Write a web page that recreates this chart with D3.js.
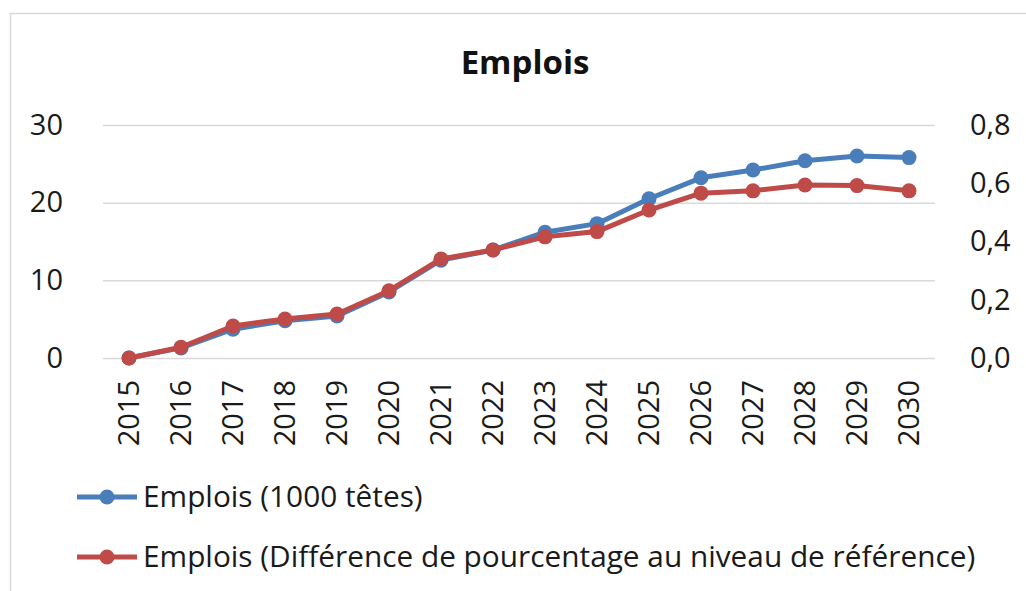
<!DOCTYPE html>
<html>
<head>
<meta charset="utf-8">
<script src="https://cdn.jsdelivr.net/npm/d3@7"></script>
<style>
  html, body { margin: 0; padding: 0; background: #fff; }
  svg { display: block; font-family: "Open Sans", "Noto Sans", sans-serif; }
</style>
</head>
<body>
<svg id="chart" width="1026" height="591"></svg>
<script>
// Années de la projection
const years = [2015, 2016, 2017, 2018, 2019, 2020, 2021, 2022, 2023, 2024, 2025, 2026, 2027, 2028, 2029, 2030];
// Emplois en milliers de têtes (axe de gauche)
const emploisTetes = [0, 1.3, 3.7, 4.8, 5.4, 8.5, 12.6, 13.9, 16.2, 17.3, 20.5, 23.2, 24.2, 25.4, 26.0, 25.8];
// Emplois, différence en % par rapport au niveau de référence (axe de droite)
const emploisPct = [0, 0.037, 0.11, 0.134, 0.151, 0.231, 0.34, 0.371, 0.416, 0.434, 0.508, 0.566, 0.574, 0.594, 0.592, 0.574];
// Graduations
const leftTicks = [0, 10, 20, 30];
const rightTicks = [0, 0.2, 0.4, 0.6, 0.8];
const seriesNames = ["Emplois (1000 têtes)", "Emplois (Différence de pourcentage au niveau de référence)"];
const titleText = "Emplois";

const colors = ["#4A7EBB", "#BE4B48"];

const svg = d3.select("#chart");
const plot = { left: 103, right: 935, top: 125, bottom: 358 };

const fr = d3.formatLocale({ decimal: ",", thousands: " ", grouping: [3], currency: ["", " €"] });
const fmtRight = fr.format(".1f");

// Cadre du graphique
svg.append("path")
  .attr("d", `M10.5,600 L10.5,13.5 L1030,13.5`)
  .attr("fill", "none")
  .attr("stroke", "#d9d9d9")
  .attr("stroke-width", 1.5);

const x = d3.scaleBand().domain(years).range([plot.left, plot.right]);
const yL = d3.scaleLinear().domain([0, 30]).range([plot.bottom, plot.top]);
const yR = d3.scaleLinear().domain([0, 0.8]).range([plot.bottom, plot.top]);

// Quadrillage horizontal
svg.append("g")
  .attr("transform", `translate(${plot.left},0)`)
  .call(d3.axisLeft(yL).tickValues(leftTicks).tickSize(-(plot.right - plot.left)).tickFormat(""))
  .call(g => g.select(".domain").remove())
  .call(g => g.selectAll("line").attr("stroke", "#d9d9d9").attr("stroke-width", 1.5));

// Axe de gauche
svg.append("g")
  .attr("transform", `translate(63,0)`)
  .call(d3.axisLeft(yL).tickValues(leftTicks).tickSize(0).tickPadding(0))
  .call(g => g.select(".domain").remove())
  .call(g => g.selectAll("text")
    .attr("font-family", "Open Sans").attr("font-size", 29).attr("fill", "#1a1a1a"));

// Axe de droite
svg.append("g")
  .attr("transform", `translate(970,0)`)
  .call(d3.axisRight(yR).tickValues(rightTicks).tickSize(0).tickPadding(0).tickFormat(fmtRight))
  .call(g => g.select(".domain").remove())
  .call(g => g.selectAll("text")
    .attr("font-family", "Open Sans").attr("font-size", 29).attr("fill", "#1a1a1a"));

// Axe des années (étiquettes verticales)
svg.append("g")
  .attr("transform", `translate(0,${plot.bottom})`)
  .call(d3.axisBottom(x).tickSize(0).tickPadding(0))
  .call(g => g.select(".domain").remove())
  .call(g => g.selectAll("text")
    .attr("font-family", "Open Sans").attr("font-size", 29).attr("fill", "#1a1a1a")
    .attr("text-anchor", "end")
    .attr("transform", "rotate(-90)")
    .attr("x", -22).attr("y", 0).attr("dy", "0.35em"));

// Séries
const cx = (d, i) => x(years[i]) + x.bandwidth() / 2;
const series = [
  { values: emploisTetes, y: yL, color: colors[0] },
  { values: emploisPct, y: yR, color: colors[1] }
];

series.forEach(s => {
  const line = d3.line().x(cx).y(d => s.y(d));
  svg.append("path")
    .datum(s.values)
    .attr("d", line)
    .attr("fill", "none")
    .attr("stroke", s.color)
    .attr("stroke-width", 5)
    .attr("stroke-linejoin", "round");
  svg.append("g").selectAll("circle")
    .data(s.values)
    .join("circle")
    .attr("cx", cx)
    .attr("cy", d => s.y(d))
    .attr("r", 7.5)
    .attr("fill", s.color);
});

// Titre
svg.append("text")
  .attr("x", 525).attr("y", 74)
  .attr("text-anchor", "middle")
  .attr("font-family", "Open Sans").attr("font-weight", "bold").attr("font-size", 33)
  .attr("fill", "#111")
  .text(titleText);

// Légende
const legendY = [497, 557];
seriesNames.forEach((name, i) => {
  const g = svg.append("g");
  g.append("line")
    .attr("x1", 77).attr("x2", 137).attr("y1", legendY[i]).attr("y2", legendY[i])
    .attr("stroke", colors[i]).attr("stroke-width", 5);
  g.append("circle")
    .attr("cx", 107).attr("cy", legendY[i]).attr("r", 7.5).attr("fill", colors[i]);
  g.append("text")
    .attr("x", 143).attr("y", legendY[i]).attr("dy", "0.35em")
    .attr("font-family", "Open Sans").attr("font-size", 29.8).attr("fill", "#1a1a1a")
    .text(name);
});
</script>
</body>
</html>
